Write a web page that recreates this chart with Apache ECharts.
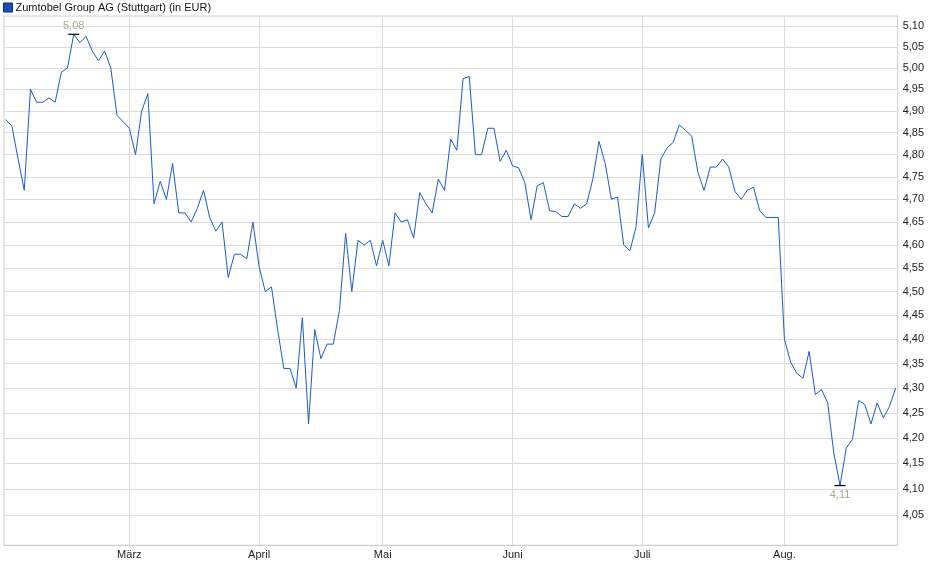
<!DOCTYPE html>
<html>
<head>
<meta charset="utf-8">
<script src="https://cdn.jsdelivr.net/npm/echarts@6/dist/echarts.min.js"></script>
<style>
html,body{margin:0;padding:0;background:#fff;}
#chart{width:940px;height:579px;}
</style>
</head>
<body>
<div id="chart"></div>
<script>
// Trading-day closing prices, Feb 3 2025 .. Aug 27 2025 (EUR)
var prices = [
  4.88, 4.865, 4.79, 4.72, 4.95, 4.92, 4.92, 4.93, 4.92, 4.99,
  5.00, 5.08, 5.06, 5.075, 5.04, 5.017, 5.04, 5.00, 4.89, 4.875,
  4.86, 4.80, 4.90, 4.94, 4.69, 4.74, 4.70, 4.78, 4.67, 4.67,
  4.65, 4.68, 4.72, 4.66, 4.63, 4.65, 4.53, 4.58, 4.58, 4.57,
  4.65, 4.553, 4.50, 4.51, 4.42, 4.34, 4.34, 4.30, 4.445, 4.228,
  4.42, 4.36, 4.39, 4.39, 4.46, 4.625, 4.50, 4.61, 4.60, 4.61,
  4.555, 4.61, 4.555, 4.67, 4.65, 4.655, 4.615, 4.715, 4.69, 4.67,
  4.745, 4.72, 4.835, 4.81, 4.975, 4.98, 4.80, 4.80, 4.86, 4.86,
  4.785, 4.81, 4.775, 4.77, 4.737, 4.655, 4.73, 4.737, 4.675, 4.673,
  4.662, 4.662, 4.69, 4.68, 4.69, 4.745, 4.83, 4.78, 4.70, 4.705,
  4.60, 4.587, 4.64, 4.80, 4.637, 4.67, 4.79, 4.815, 4.828, 4.868,
  4.855, 4.842, 4.76, 4.72, 4.772, 4.772, 4.79, 4.772, 4.717, 4.70,
  4.72, 4.727, 4.675, 4.66, 4.66, 4.66, 4.40, 4.353, 4.33, 4.32,
  4.375, 4.287, 4.297, 4.27, 4.17, 4.107, 4.18, 4.197, 4.275, 4.267,
  4.228, 4.27, 4.24, 4.263, 4.30
];
var monthLabels = ['März', 'April', 'Mai', 'Juni', 'Juli', 'Aug.'];
var monthStartIdx = [20, 41, 61, 82, 103, 126];
var yTickValues = [4.05, 4.10, 4.15, 4.20, 4.25, 4.30, 4.35, 4.40, 4.45, 4.50,
  4.55, 4.60, 4.65, 4.70, 4.75, 4.80, 4.85, 4.90, 4.95, 5.00, 5.05, 5.10];
var seriesName = 'Zumtobel Group AG (Stuttgart) (in EUR)';
var yMinPrice = 3.993, yMaxPrice = 5.124;

var lineData = prices.map(function (p, i) { return [i, Math.log(p)]; });
var yTickLn = yTickValues.map(function (v) { return Math.log(v); });
function fmtPrice(lnv) { return Math.exp(lnv).toFixed(2).replace('.', ','); }

var chart = echarts.init(document.getElementById('chart'), null, {renderer: 'canvas'});
var gridColor = '#dcdcdc';
var textFont = 'Liberation Sans, Arial, sans-serif';
chart.setOption({
  animation: false,
  backgroundColor: '#ffffff',
  legend: {
    left: 3, top: 2, padding: 0,
    itemWidth: 9, itemHeight: 9, itemGap: 10,
    icon: 'rect',
    textStyle: {fontFamily: textFont, fontSize: 11, color: '#111', padding: [0, 0, 0, -2]},
    data: [{name: seriesName, itemStyle: {color: '#1a4fb5', borderColor: '#0d2d6e', borderWidth: 1}}]
  },
  grid: {
    left: 4, right: 42.3, top: 16, bottom: 33.7,
    show: true, borderColor: '#cccccc', borderWidth: 1,
    containLabel: false
  },
  xAxis: {
    type: 'value',
    min: -0.28, max: 144.33,
    axisLine: {show: true, lineStyle: {color: '#cccccc'}},
    axisTick: {show: false, customValues: monthStartIdx},
    splitLine: {show: true, lineStyle: {color: gridColor, width: 1}},
    axisLabel: {
      customValues: monthStartIdx,
      margin: 4,
      fontFamily: textFont, fontSize: 11, color: '#222',
      formatter: function (v) {
        var k = monthStartIdx.indexOf(Math.round(v));
        return k >= 0 ? monthLabels[k] : '';
      }
    }
  },
  yAxis: {
    type: 'value',
    position: 'right',
    min: Math.log(yMinPrice), max: Math.log(yMaxPrice),
    axisLine: {show: false},
    axisTick: {show: false, customValues: yTickLn},
    splitLine: {show: true, lineStyle: {color: gridColor, width: 1}},
    axisLabel: {
      customValues: yTickLn,
      margin: 5,
      fontFamily: textFont, fontSize: 11, color: '#222',
      formatter: function (v) { return fmtPrice(v); }
    }
  },
  series: [{
    name: seriesName,
    type: 'line',
    data: lineData,
    showSymbol: false,
    symbol: 'none',
    lineStyle: {color: '#1a5bc8', width: 1},
    itemStyle: {color: '#1a4fb5'},
    markPoint: {
      symbol: 'rect',
      symbolSize: [11, 1.2],
      itemStyle: {color: '#000'},
      data: [
        {type: 'max', label: {position: 'top', distance: 2}},
        {type: 'min', label: {position: 'bottom', distance: 3}}
      ],
      label: {
        show: true,
        fontFamily: textFont, fontSize: 11, color: '#b3a590',
        formatter: function (p) { return fmtPrice(p.value); }
      }
    }
  }]
});
</script>
</body>
</html>
